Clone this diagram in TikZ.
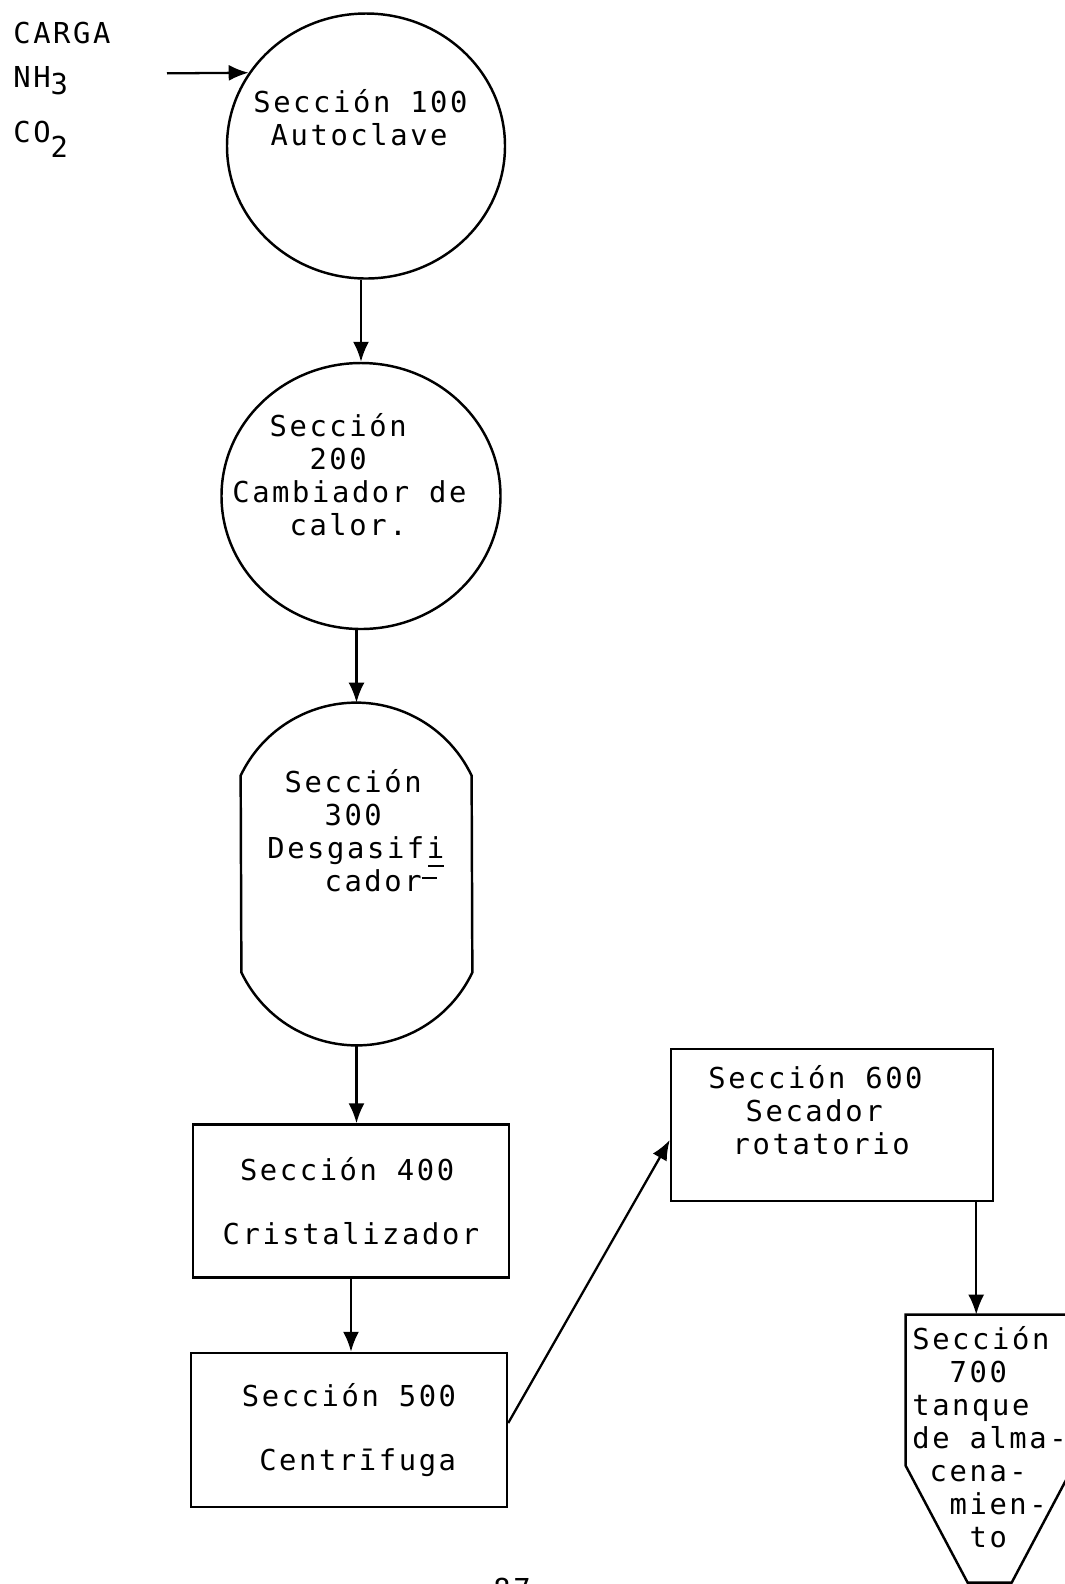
\documentclass[tikz,border=0pt]{standalone}
\usepackage{fontspec}
\newfontfamily\typew{DejaVu Sans Mono}[LetterSpace=9]
\usetikzlibrary{arrows.meta,shapes.geometric,calc}

\begin{document}
\begin{tikzpicture}[
    flow/.style={-{Latex[length=4mm,width=3.2mm]}, line width=1.3pt},
    unit/.style={draw, line width=1.4pt, inner sep=0pt},
    lbl/.style={font={\typew\fontsize{16.4}{18.8}\selectfont}, align=left, inner sep=0pt}]

            \useasboundingbox (0,0) rectangle (21.3,-31.68);

            \node[lbl, anchor=base west] (carga) at (0.26,-0.86) {CARGA};
            \node[lbl, anchor=base west] (nh3) at (0.26,-1.74) {NH\raisebox{-0.15cm}{3}};
            \node[lbl, anchor=base west] (co2) at (0.26,-2.84) {CO\raisebox{-0.3cm}{2}};
            \coordinate (feed) at (3.34,-1.467);

            \node[unit, ellipse, minimum width=5.56cm, minimum height=5.30cm] (s100) at (7.32,-2.92) {};
            \node[lbl, anchor=west] (t100) at (5.06,-2.35) {Sección 100\\\phantom{0}Autoclave};

            \node[unit, ellipse, minimum width=5.58cm, minimum height=5.32cm] (s200) at (7.22,-9.92) {};
            \node[lbl, anchor=west] (t200) at (4.64,-9.50) {\phantom{00}Sección\\\phantom{0000}200\\Cambiador de\\\phantom{000}calor.};

            \node[minimum width=4.62cm, minimum height=6.84cm, inner sep=0pt] (s300) at (7.13,-17.48) {};
            \draw[line width=1.4pt] ($(s300.north west)+(0,-1.46)$) arc[start angle=154.6, end angle=25.4, radius=2.557]
                -- ($(s300.south east)+(0,1.46)$) arc[start angle=-25.4, end angle=-154.6, radius=2.557] -- cycle;
            \node[lbl, anchor=west] (t300) at (5.34,-16.62) {\phantom{0}Sección\\\phantom{000}300\\Desgasifi\llap{\rule[-0.16cm]{0.32cm}{0.9pt}}\\\phantom{000}cador\rlap{\rule[0.26cm]{0.3cm}{0.9pt}}};

            \node[unit, lbl, minimum width=6.32cm, minimum height=3.06cm] (s400) at (7.02,-24.02) {\phantom{0}Sección 400\\[18pt]Cristalizador};
            \node[unit, lbl, minimum width=6.32cm, minimum height=3.08cm] (s500) at (6.98,-28.60) {Sección 500\\[18pt]\phantom{0}Centrīfuga};

            \node[unit, minimum width=6.44cm, minimum height=3.04cm] (s600) at (16.64,-22.50) {};
            \node[lbl, anchor=west] (t600) at (14.16,-22.2) {Sección 600\\\phantom{00}Secador\\\phantom{0}\hspace{0.14cm}rotatorio};

            \node[minimum width=3.36cm, minimum height=5.36cm, inner sep=0pt] (s700) at (19.80,-28.98) {};
            \draw[line width=1.4pt] (s700.north west) -- ++(0,-3.02) -- ++(1.24,-2.34) -- ++(0.88,0) -- ++(1.24,2.34) -- (s700.north east) -- cycle;
            \node[lbl, anchor=west] (t700) at (18.24,-28.75) {Sección\\\phantom{00}700\\tanque\\de alma-\\\phantom{0}cena-\\\phantom{00}mien-\\\phantom{000}to};

            \node[lbl, anchor=north west] (pg) at (9.86,-31.56) {87};

            \draw[flow] (feed) -- (s100.148);
            \draw[flow] (s200.north |- s100.south) -- (s200.north);
            \draw[flow] (s300.north |- s200.south) -- (s300.north);
            \draw[flow] (s300.south) -- (s300.south |- s400.north);
            \draw[flow] (s400.south) -- (s400.south |- s500.north);
            \draw[flow] ([yshift=0.14cm]s500.east) -- ([yshift=-0.3cm]s600.west);
            \draw[flow] ([xshift=-0.36cm]s600.south east) -- ([xshift=-0.36cm]s600.south east |- s700.north);
        \end{tikzpicture}
\end{document}
